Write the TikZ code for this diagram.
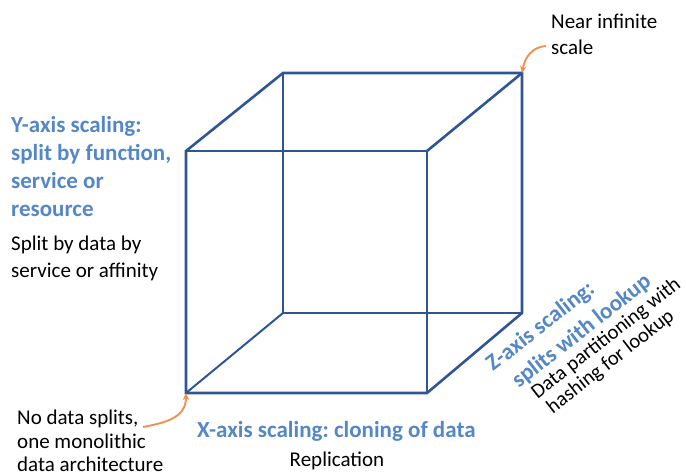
\documentclass[tikz,border=0pt]{standalone}
\usepackage{fontspec}
\setmainfont{Carlito}
\frenchspacing
\usetikzlibrary{arrows.meta}
\definecolor{cubeblue}{HTML}{2F5597}
\definecolor{headblue}{HTML}{5487C5}
\definecolor{notearrow}{HTML}{F0914F}
\tikzset{
  frontedge/.style={draw=cubeblue, line width=2.6pt, line join=miter},
  backedge/.style={draw=cubeblue, line width=2.0pt},
  head/.style={text=headblue, font=\fontsize{23}{28}\selectfont\bfseries, inner sep=0pt, anchor=base west},
  note/.style={text=black, font=\fontsize{21}{26}\selectfont, inner sep=0pt, anchor=base west},
  znote/.style={note, font=\fontsize{20.6}{25}\selectfont},
  pointer/.style={draw=notearrow, line width=1.9pt, -{Stealth[length=7pt,width=6.5pt]}},
}
\begin{document}
\begin{tikzpicture}[x=1pt,y=-1pt]
\useasboundingbox (0,0) rectangle (686,475);

% cube corners: front face and back face
\coordinate (ftl) at (186,151);
\coordinate (ftr) at (427,151);
\coordinate (fbl) at (186,393);
\coordinate (fbr) at (427,393);
\coordinate (btl) at (283,73);
\coordinate (btr) at (522,73);
\coordinate (bbl) at (283,313);
\coordinate (bbr) at (522,313);

% hidden/back edges
\draw[backedge] (btl) -- (bbl) -- (bbr);
\draw[backedge] (bbl) -- (fbl);
% outer silhouette and front face
\draw[frontedge] (ftl) -- (btl) -- (btr) -- (bbr) -- (fbr) -- (fbl) -- cycle;
\draw[frontedge] (ftl) -- (ftr) -- (fbr);
\draw[frontedge] (ftr) -- (btr);

% top right note
\node[note] (ni1) at (551,28) {Near infinite};
\node[note] (ni2) at (551,54) {scale};
\coordinate (niarr) at (546,46);
\draw[pointer] (niarr) .. controls (532,47) and (525,57) .. (btr);

% Y axis
\node[head] (y1) at (11,132) {Y-axis scaling:};
\node[head] (y2) at (11,160) {split by function,};
\node[head] (y3) at (11,188) {service or};
\node[head] (y4) at (11,216) {resource};
\node[note] (y5) at (11,250) {Split by data by};
\node[note] (y6) at (11,277) {service or affinity};

% origin note
\node[note] (o1) at (17,424) {No data splits,};
\node[note] (o2) at (17,448) {one monolithic};
\node[note] (o3) at (17,471) {data architecture};
\coordinate (oarr) at (143,427);
\draw[pointer] (oarr) .. controls (170,422) and (186,416) .. (fbl);

% X axis
\node[head] (x1) at (197,437) {X-axis scaling: cloning of data};
\node[note, anchor=base] (x2) at (337,466) {Replication};

% Z axis, set along the receding edge direction
\begin{scope}[shift={(493,372)}, rotate=38]
  \node[head, rotate=38] (z1) at (0,0) {Z-axis scaling:};
  \node[head, rotate=38] (z2) at (10,29) {splits with lookup};
  \node[znote, rotate=38] (z3) at (18,49) {Data partitioning with};
  \node[znote, rotate=38] (z4) at (21,70) {hashing for lookup};
\end{scope}
\end{tikzpicture}
\end{document}
